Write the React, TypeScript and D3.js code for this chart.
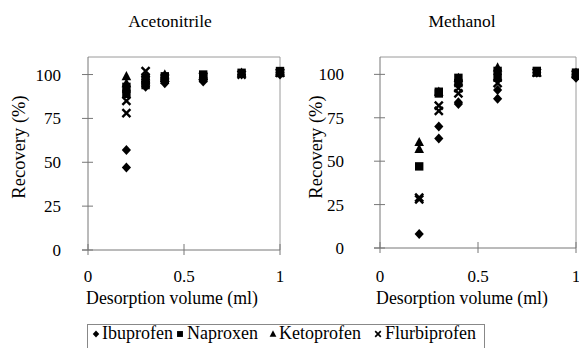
import React from 'react';
import * as d3 from 'd3';

// desorption volumes (ml) and recoveries (%), replicates per volume
const volumes = [0.2, 0.3, 0.4, 0.6, 0.8, 1.0];

const acnIbuprofen = [[47, 57, 90], [93, 96], [95, 97], [96, 98], [100], [100, 101]];
const acnNaproxen = [[89, 93], [94, 98], [97, 99], [98, 100], [101], [101, 102]];
const acnKetoprofen = [[95, 99], [96, 99], [98, 100], [99], [101], [101]];
const acnFlurbiprofen = [[78, 85], [97, 102], [98], [99], [100], [101]];

const meohIbuprofen = [[8], [63, 70], [83, 84], [86, 91], [101], [98, 100]];
const meohNaproxen = [[47], [89, 90], [95, 98], [98, 102], [102], [100, 101]];
const meohKetoprofen = [[57, 61], [90], [98], [104], [101], [101]];
const meohFlurbiprofen = [[28, 29], [79, 82], [89, 92], [95], [101], [100]];

const compounds = ['Ibuprofen', 'Naproxen', 'Ketoprofen', 'Flurbiprofen'];
const xTicks = [0, 0.5, 1];
const yTicks = [0, 25, 50, 75, 100];

const AXIS = '#777';
const FRAME = '#9a9a9a';

function toPoints(reps) {
  return volumes.flatMap((v, i) => (reps[i] || []).map(r => ({ x: v, y: r })));
}

// 标记形状
function Marker({ kind, x, y, s = 1 }) {
  if (kind === 'Ibuprofen')
    return <path d={`M${x},${y - 5 * s}L${x + 4.6 * s},${y}L${x},${y + 5 * s}L${x - 4.6 * s},${y}Z`} fill="#000" />;
  if (kind === 'Naproxen')
    return <rect x={x - 4.2 * s} y={y - 4.2 * s} width={8.4 * s} height={8.4 * s} fill="#000" />;
  if (kind === 'Ketoprofen')
    return <path d={`M${x},${y - 5.2 * s}L${x + 4.8 * s},${y + 4 * s}L${x - 4.8 * s},${y + 4 * s}Z`} fill="#000" />;
  return (
    <g stroke="#000" strokeWidth={2.4 * s} strokeLinecap="butt">
      <line x1={x - 4 * s} y1={y - 4 * s} x2={x + 4 * s} y2={y + 4 * s} />
      <line x1={x - 4 * s} y1={y + 4 * s} x2={x + 4 * s} y2={y - 4 * s} />
    </g>
  );
}

function Panel({ title, series, left, right, top, bottom, labelRight, yTitleX, titleX, xTitleX }) {
  const x = d3.scaleLinear().domain([0, 1]).range([left, right]);
  const y = d3.scaleLinear().domain([0, 110]).range([bottom, top]);
  return (
    <g>
      <text x={titleX} y={27} fontFamily="Liberation Serif" fontSize={17.5} textAnchor="middle">{title}</text>
      {/* frame */}
      <line x1={left} y1={top} x2={right} y2={top} stroke={FRAME} />
      <line x1={right} y1={top} x2={right} y2={bottom} stroke={FRAME} />
      <line x1={left} y1={top} x2={left} y2={bottom} stroke={AXIS} />
      <line x1={left - 6} y1={bottom} x2={right} y2={bottom} stroke={AXIS} />
      {yTicks.map(t => (
        <g key={t}>
          <line x1={left - 6} x2={left + 5} y1={y(t)} y2={y(t)} stroke={AXIS} />
          <text x={labelRight} y={y(t) + 6} fontFamily="Liberation Serif" fontSize={17} textAnchor="end">{t}</text>
        </g>
      ))}
      {xTicks.map(t => (
        <g key={t}>
          <line x1={x(t)} x2={x(t)} y1={bottom - 6} y2={bottom + 5} stroke={AXIS} />
          <text x={x(t)} y={281.5} fontFamily="Liberation Serif" fontSize={17} textAnchor="middle">{t}</text>
        </g>
      ))}
      <text x={xTitleX} y={304} fontFamily="Liberation Serif" fontSize={17.8} textAnchor="middle">Desorption volume (ml)</text>
      <text transform={`translate(${yTitleX},${147}) rotate(-90)`} fontFamily="Liberation Serif" fontSize={18.5} textAnchor="middle">Recovery (%)</text>
      {series.map((reps, k) =>
        toPoints(reps).map((p, i) => (
          <Marker key={k + '-' + i} kind={compounds[k]} x={x(p.x)} y={y(p.y)} />
        ))
      )}
    </g>
  );
}

const legendMarkX = [96, 180, 273, 378];
const legendTextX = [102, 187, 279, 385];

export default function App() {
  return (
    <svg width={579} height={348} fontFamily="Liberation Serif" style={{ position: 'absolute', left: 0, top: 0 }}>
      <Panel
        title="Acetonitrile"
        series={[acnIbuprofen, acnNaproxen, acnKetoprofen, acnFlurbiprofen]}
        left={88} right={280} top={57} bottom={250}
        labelRight={61} yTitleX={25} titleX={170} xTitleX={172}
      />
      <Panel
        title="Methanol"
        series={[meohIbuprofen, meohNaproxen, meohKetoprofen, meohFlurbiprofen]}
        left={380} right={576} top={57} bottom={248}
        labelRight={344} yTitleX={322} titleX={462} xTitleX={462}
      />
      <rect x={87.5} y={324.5} width={397} height={30} fill="none" stroke="#888" />
      {compounds.map((c, i) => (
        <g key={c}>
          <Marker kind={c} x={legendMarkX[i]} y={334} s={0.7} />
          <text x={legendTextX[i]} y={339} fontFamily="Liberation Serif" fontSize={18}>{c}</text>
        </g>
      ))}
    </svg>
  );
}
